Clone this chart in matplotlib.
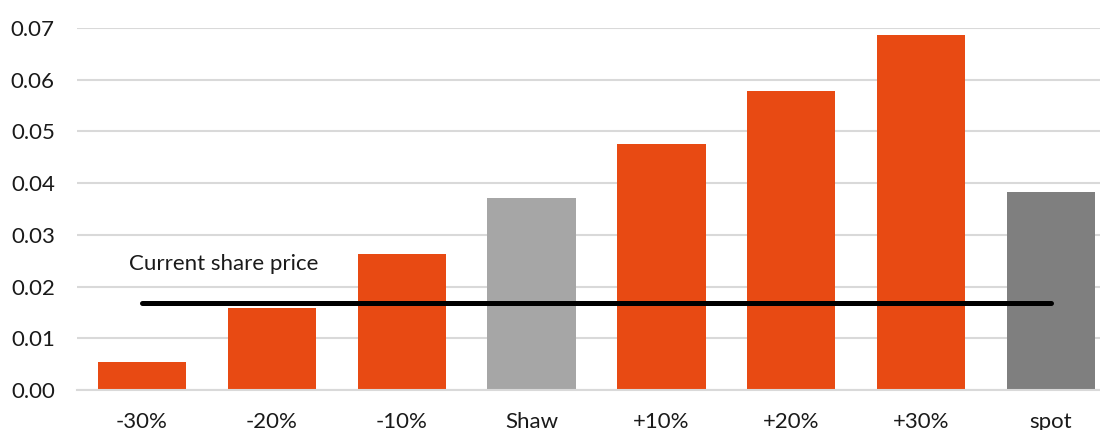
import matplotlib
matplotlib.use("Agg")
import matplotlib.pyplot as plt

# Option value per share-price scenario
categories = ["-30%", "-20%", "-10%", "Shaw", "+10%", "+20%", "+30%", "spot"]
values = [0.0055, 0.0159, 0.0263, 0.0371, 0.0475, 0.0578, 0.0687, 0.0383]
bar_colors = ["#E84A13", "#E84A13", "#E84A13", "#A6A6A6",
              "#E84A13", "#E84A13", "#E84A13", "#7F7F7F"]
current_price = 0.0169
y_ticks = [0.00, 0.01, 0.02, 0.03, 0.04, 0.05, 0.06, 0.07]

plt.rcParams["font.family"] = ["Lato", "DejaVu Sans"]

W, H = 1100, 430
fig = plt.figure(figsize=(W / 100, H / 100), dpi=100)
ax = fig.add_axes([77 / W, 1 - 390 / H, (1116 - 77) / W, (390 - 28) / H])

x = range(len(categories))
ax.bar(x, values, width=0.68, color=bar_colors, zorder=2)

# current share price reference line
ax.plot([0, len(categories) - 1], [current_price, current_price],
        color="black", linewidth=3.6, solid_capstyle="round", zorder=3)
ax.text(-0.1, 0.0243, "Current share price", fontsize=16,
        ha="left", va="center", color="#1a1a1a")

ax.set_xlim(-0.5, len(categories) - 0.5)
ax.set_ylim(0, 0.07)
ax.set_yticks(y_ticks)
ax.set_yticklabels([f"{t:.2f}" for t in y_ticks])
ax.set_xticks(list(x))
ax.set_xticklabels(categories)

ax.tick_params(axis="y", length=0, pad=16, labelsize=16, labelcolor="#1a1a1a")
ax.tick_params(axis="x", length=0, pad=16, labelsize=16, labelcolor="#1a1a1a")

ax.grid(axis="y", color="#d9d9d9", linewidth=1.5, zorder=0)
ax.set_axisbelow(True)
for side in ["top", "right", "left"]:
    ax.spines[side].set_visible(False)
ax.spines["bottom"].set_color("#d9d9d9")
ax.spines["bottom"].set_linewidth(1.5)

fig.savefig("out.png", dpi=100, facecolor="white")
